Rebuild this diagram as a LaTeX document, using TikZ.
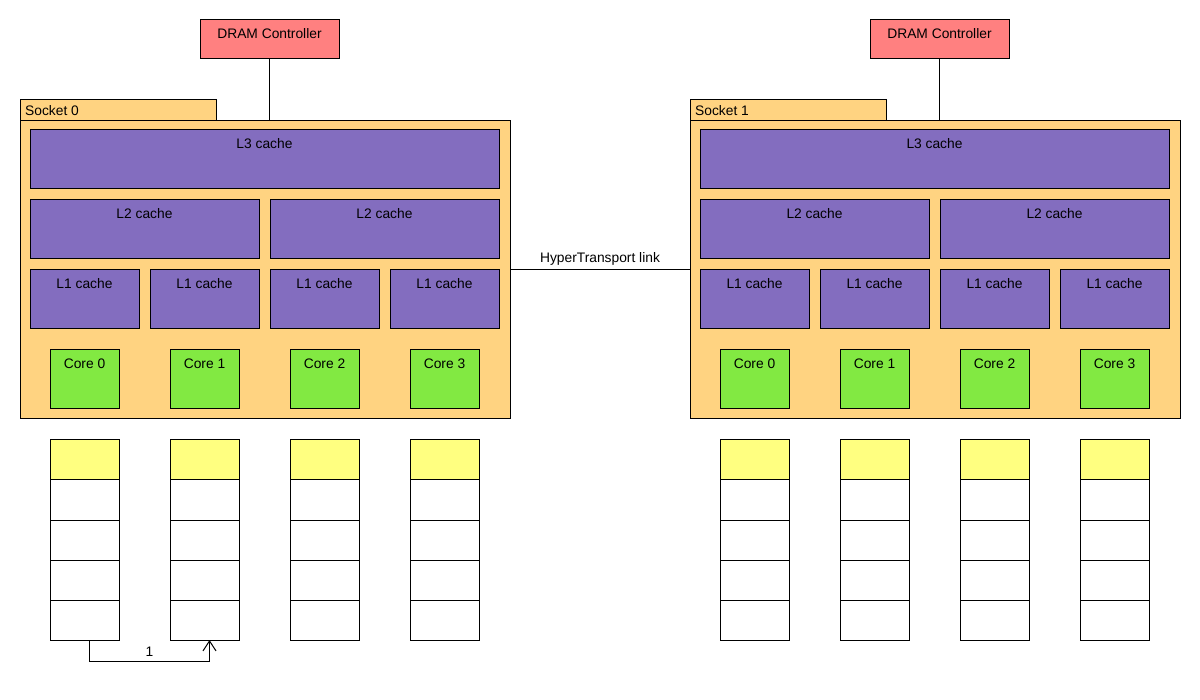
\documentclass[tikz,border=0pt]{standalone}
\usepackage{fontspec}
\setmainfont{Liberation Sans}
\usetikzlibrary{arrows.meta}
\definecolor{dramc}{HTML}{FF8080}
\definecolor{sockc}{HTML}{FFD381}
\definecolor{cachec}{HTML}{836DBF}
\definecolor{corec}{HTML}{82E942}
\definecolor{stkc}{HTML}{FFFF80}
\tikzset{
  lbl/.style={font=\fontsize{13.8}{16}\selectfont, inner sep=0pt, text=black},
  box/.style={draw=black, line width=1pt, inner sep=0pt, outer sep=0pt, anchor=north west},
  tlab/.style={label={[lbl,anchor=base,yshift=-18.5pt]north:#1}},
  dramstyle/.style={box, fill=dramc, minimum width=139pt, minimum height=39pt},
  sockstyle/.style={box, fill=sockc},
  cache/.style={box, fill=cachec, minimum height=59pt},
  corestyle/.style={box, fill=corec, minimum width=69pt, minimum height=59pt},
  cell/.style={box, minimum width=69pt, minimum height=40pt},
  conn/.style={draw=black, line width=1pt}
}
\begin{document}
\begin{tikzpicture}[x=1pt,y=-1pt]
\fill[white] (0,0) rectangle (1200,700);
\useasboundingbox (0,0) rectangle (1200,700);
\foreach \s/\o in {0/0,1/670}{
  \begin{scope}[xshift=\o pt]
    \node[dramstyle, tlab={DRAM Controller}] (dram\s) at (200,20) {};
    \node[sockstyle, minimum width=196pt, minimum height=21pt,
      label={[lbl,anchor=base west,xshift=5pt,yshift=-16pt]north west:Socket \s}] (tab\s) at (20,100) {};
    \node[sockstyle, minimum width=490pt, minimum height=298pt] (sock\s) at (20,121) {};
    \node[cache, minimum width=469pt, tlab={L3 cache}] (l3s\s) at (30,130) {};
    \foreach \i/\x in {1/30,2/270}
      \node[cache, minimum width=229pt, tlab={L2 cache}] (l2s\s-\i) at (\x,200) {};
    \foreach \i/\x/\c in {1/30/0,2/150/1,3/270/2,4/390/3}{
      \node[cache, minimum width=109pt, tlab={L1 cache}] (l1s\s-\i) at (\x,270) {};
      \node[corestyle, tlab={Core \c}] (core\s-\i) at (\x+20,350) {};
      \foreach \k/\f in {1/stkc,2/white,3/white,4/white,5/white}
        \node[cell, fill=\f] (c\s-\i-\k) at (\x+20,400+40*\k) {};
    }
    \draw[conn] (dram\s.south) -- (dram\s.south |- sock\s.north);
  \end{scope}
}
\draw[conn] (sock0.east |- l1s0-1.north) -- node[lbl, above=4pt] {HyperTransport link} (sock1.west |- l1s0-1.north);
\draw[conn, -{Straight Barb[length=10pt,width=13pt]}] ([xshift=5pt]c0-1-5.south) -- ++(0,21) -| node[pos=0.25, lbl, above=4pt] {1} ([xshift=5pt]c0-2-5.south);
\end{tikzpicture}
\end{document}
